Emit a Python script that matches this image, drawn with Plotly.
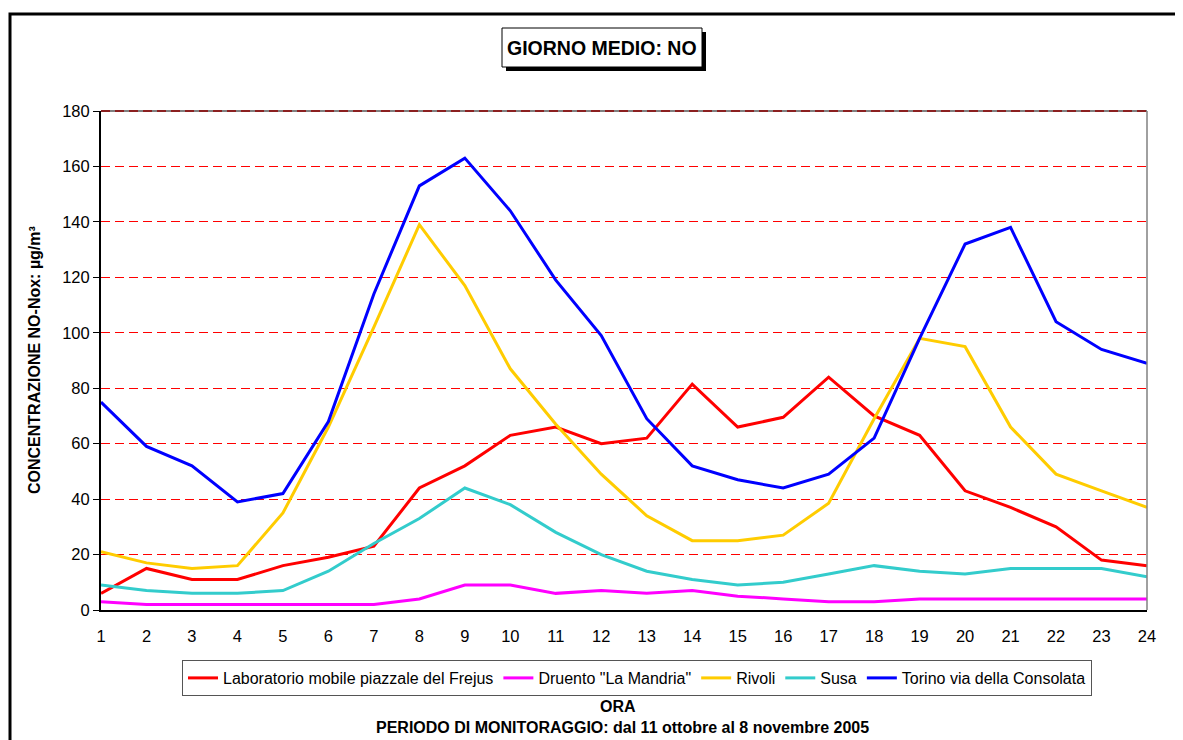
import plotly.graph_objects as go

hours = list(range(1, 25))
tick_labels = [str(h) for h in hours]

frejus = [6, 15, 11, 11, 16, 19, 23, 44, 52, 63, 66, 60, 62, 81.5, 66, 69.5, 84, 70, 63, 43, 37, 30, 18, 16]
druento = [3, 2, 2, 2, 2, 2, 2, 4, 9, 9, 6, 7, 6, 7, 5, 4, 3, 3, 4, 4, 4, 4, 4, 4]
rivoli = [21, 17, 15, 16, 35, 66, 102, 139, 117, 87, 67, 49, 34, 25, 25, 27, 38.5, 69, 98, 95, 66, 49, 43, 37]
susa = [9, 7, 6, 6, 7, 14, 24, 33, 44, 38, 28, 20, 14, 11, 9, 10, 13, 16, 14, 13, 15, 15, 15, 12]
torino = [75, 59, 52, 39, 42, 68, 114, 153, 163, 144, 119, 99, 69, 52, 47, 44, 49, 62, 98, 132, 138, 104, 94, 89]

series_names = ["Laboratorio mobile piazzale del Frejus", 'Druento "La Mandria"', "Rivoli", "Susa",
                "Torino via della Consolata"]
series_values = [frejus, druento, rivoli, susa, torino]
series_colors = ["#FF0000", "#FF00FF", "#FFCC00", "#33CCCC", "#0000FF"]

# page body offsets the figure by 8px
OFF = 8
W, H = 1183 - OFF, 740 - OFF
# plot area in reference (screen) pixels
L, R, T, B = 101, 1147, 111, 610
FONT = "Arial, Liberation Sans, sans-serif"

def px(x):
    return (x - L) / (R - L)

def py(y):
    return (B - y) / (B - T)

fig = go.Figure()
for name, vals, col in zip(series_names, series_values, series_colors):
    fig.add_trace(go.Scatter(x=hours, y=vals, mode="lines", name=name,
                             line=dict(color=col, width=3)))

shapes = [
    # plot top / right border (gray) with dashed red gridline on top
    dict(type="line", xref="paper", yref="paper", x0=0, x1=1, y0=1, y1=1,
         line=dict(color="#808080", width=2), layer="above"),
    dict(type="line", xref="paper", yref="paper", x0=0, x1=1, y0=1, y1=1,
         line=dict(color="#8B2020", width=2, dash="9px,5px"), layer="above"),
    dict(type="line", xref="paper", yref="paper", x0=1, x1=1, y0=0, y1=1,
         line=dict(color="#808080", width=1.5), layer="above"),
    # outer frame
    dict(type="rect", xref="paper", yref="paper", x0=px(10), x1=px(1200), y0=py(14), y1=py(760),
         line=dict(color="black", width=3), layer="above"),
    # title shadow
    dict(type="rect", xref="paper", yref="paper", x0=px(506), x1=px(706), y0=py(32), y1=py(71),
         fillcolor="black", line=dict(color="black", width=0), layer="above"),
    # title box
    dict(type="rect", xref="paper", yref="paper", x0=px(502), x1=px(702), y0=py(28), y1=py(67),
         fillcolor="white", line=dict(color="black", width=1), layer="above"),
]

annotations = [
    dict(text="<b>GIORNO MEDIO: NO</b>", xref="paper", yref="paper", x=px(602), y=py(48),
         showarrow=False, font=dict(family=FONT, size=19.5, color="black"), xanchor="center", yanchor="middle"),
    dict(text="<b>CONCENTRAZIONE NO-Nox: µg/m³</b>", xref="paper", yref="paper", x=px(34), y=py(360),
         textangle=-90, showarrow=False, font=dict(family=FONT, size=16, color="black"),
         xanchor="center", yanchor="middle"),
    dict(text="<b>ORA</b>", xref="paper", yref="paper", x=px(618), y=py(706),
         showarrow=False, font=dict(family=FONT, size=16, color="black"), xanchor="center", yanchor="middle"),
    dict(text="<b>PERIODO DI MONITORAGGIO: dal 11 ottobre al 8 novembre 2005</b>", xref="paper", yref="paper",
         x=px(622), y=py(727), showarrow=False, font=dict(family=FONT, size=16, color="black"),
         xanchor="center", yanchor="middle"),
]

fig.update_layout(
    width=W, height=H,
    margin=dict(l=L - OFF, r=W - (R - OFF), t=T - OFF, b=H - (B - OFF)),
    paper_bgcolor="white", plot_bgcolor="white",
    font=dict(family=FONT, color="black"),
    showlegend=True,
    legend=dict(orientation="h", x=px(637), xanchor="center", y=py(660), yanchor="top",
                bordercolor="#555555", borderwidth=1, font=dict(family=FONT, size=16, color="black"),
                bgcolor="white", traceorder="normal", itemwidth=30, tracegroupgap=0),
    shapes=shapes,
    annotations=annotations,
)
fig.update_xaxes(range=[1, 24], tickvals=hours, ticktext=tick_labels, showgrid=False, zeroline=False,
                 showline=True, linecolor="black", linewidth=2, ticks="outside", ticklen=10,
                 tickcolor="rgba(0,0,0,0)", tickfont=dict(family=FONT, size=16.5, color="black"))
fig.update_yaxes(range=[0, 180], dtick=20, tick0=0, showgrid=True, gridcolor="#FF0000", gridwidth=1,
                 griddash="9px,5px", zeroline=False, showline=True, linecolor="black", linewidth=2,
                 ticks="outside", ticklen=6, tickcolor="black",
                 tickfont=dict(family=FONT, size=16.5, color="black"))

fig.write_html("out.html")
